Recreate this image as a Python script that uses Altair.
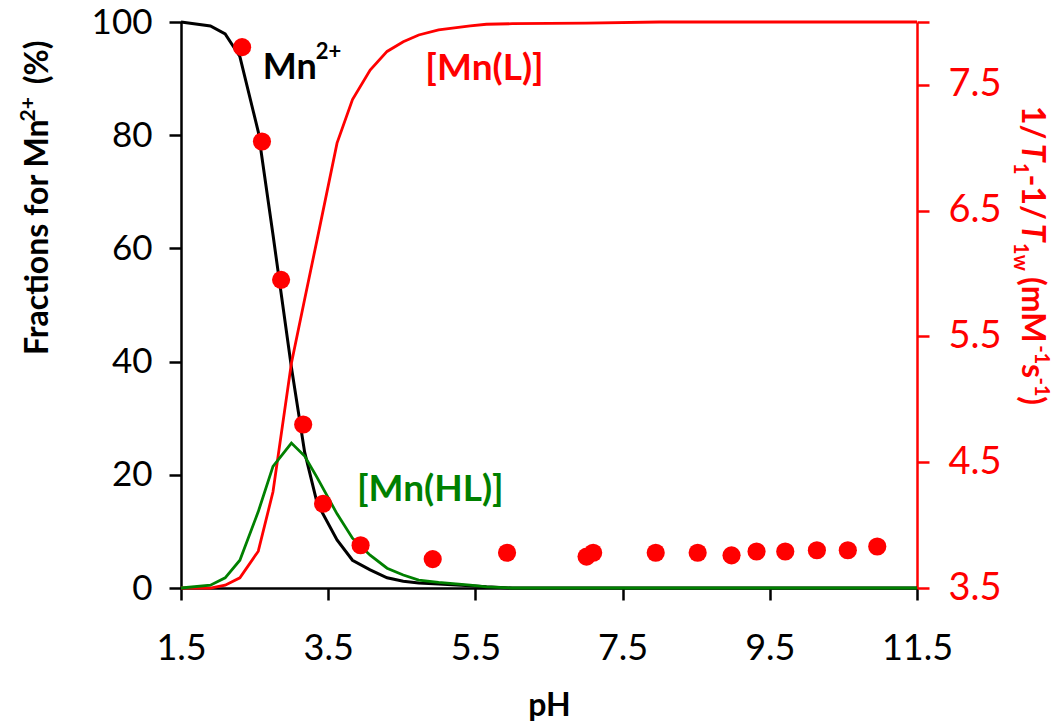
import altair as alt
import pandas as pd

# ---------------- data ----------------
ph_curve = [1.5, 1.9, 2.1, 2.3, 2.55, 2.75, 3.0, 3.18, 3.35, 3.62, 3.83, 4.07,
            4.3, 4.52, 4.73, 5.0, 5.43, 5.65, 6.0, 7.0, 8.0, 9.0, 10.0, 11.5]
mn_free = [100, 99.3, 97.9, 93.9, 80.6, 62.4, 39.0, 24.0, 15.0, 8.5, 4.9, 3.2,
           1.8, 1.2, 0.9, 0.7, 0.4, 0.2, 0, 0, 0, 0, 0, 0]
mn_l = [0, 0, 0.5, 1.8, 6.5, 17.0, 39.7, 51.0, 61.6, 78.6, 86.3, 91.5,
        94.8, 96.5, 97.7, 98.6, 99.3, 99.6, 99.7, 99.8, 100, 100, 100, 100]
mn_hl = [0, 0.5, 1.8, 4.9, 13.5, 21.5, 25.6, 23.3, 19.5, 13.1, 8.8, 5.8,
         3.5, 2.3, 1.4, 1.0, 0.5, 0.2, 0, 0, 0, 0, 0, 0]

ph_points = [2.33, 2.60, 2.86, 3.16, 3.43, 3.94, 4.92, 5.93, 7.01, 7.10,
             7.95, 8.52, 8.98, 9.32, 9.71, 10.14, 10.56, 10.96]
relaxivity = [7.80, 7.05, 5.95, 4.80, 4.17, 3.84, 3.73, 3.78, 3.75, 3.78,
              3.78, 3.78, 3.76, 3.79, 3.79, 3.80, 3.80, 3.83]

x_ticks = [1.5, 3.5, 5.5, 7.5, 9.5, 11.5]
left_ticks = [0, 20, 40, 60, 80, 100]
right_ticks = [3.5, 4.5, 5.5, 6.5, 7.5, 8.0]

# ---------------- tables ----------------
long_rows = []
for name, vals in [("Mn", mn_free), ("MnL", mn_l), ("MnHL", mn_hl)]:
    for p, v in zip(ph_curve, vals):
        long_rows.append({"pH": p, "pct": v, "series": name})
curves = pd.DataFrame(long_rows)
pts = pd.DataFrame({"pH": ph_points, "r": relaxivity})

FONT = "Lato"
RED = "#FF0000"
GREEN = "#008000"
W, H = 736, 566

x_scale = alt.Scale(domain=[1.5, 11.5], nice=False, zero=False)
x_axis = alt.Axis(values=x_ticks, format=".1f", title="pH", grid=False,
                  domainColor="black", domainWidth=2.5, tickColor="black",
                  tickWidth=2.5, tickSize=12, labelFont=FONT, labelFontSize=36,
                  labelColor="black", labelPadding=31, labelFlush=False,
                  titleFont=FONT, titleFontSize=32, titleFontWeight="bold",
                  titleColor="black", titleBaseline="alphabetic", titleY=127)
xenc = alt.X("pH:Q", scale=x_scale, axis=x_axis)

yl_scale = alt.Scale(domain=[0, 100], nice=False, zero=False)
yl_axis = alt.Axis(values=left_ticks, format="d", title="", grid=False, orient="left",
                   domainColor="black", domainWidth=2.5, tickColor="black",
                   tickWidth=2.5, tickSize=12, labelFont=FONT, labelFontSize=35,
                   labelColor="black", labelPadding=17)
ylenc = alt.Y("pct:Q", scale=yl_scale, axis=yl_axis)


def curve(name, color, width):
    return alt.Chart(curves).transform_filter(
        alt.datum.series == name
    ).mark_line(color=color, strokeWidth=width).encode(x=xenc, y=ylenc)


def label(text, ph, pct, color, size, align="left"):
    df = pd.DataFrame({"pH": [ph], "pct": [pct], "t": [text]})
    return alt.Chart(df).mark_text(
        font=FONT, fontSize=size, fontWeight="bold", color=color,
        align=align, baseline="alphabetic"
    ).encode(x=xenc, y=ylenc, text="t:N")


# approximate advance widths (em) for Lato Bold, used to chain title pieces
CW = {"1": .58, "2": .58, "/": .40, " ": .20, "T": .60, "-": .36, "(": .33,
      ")": .33, "m": .87, "M": .93, "s": .42, "w": .80, "F": .56, "r": .38,
      "a": .52, "c": .45, "t": .36, "i": .26, "o": .57, "n": .58, "f": .34,
      "%": .84, "+": .58}


def text_w(s, size):
    return sum(CW.get(c, .55) for c in s) * size


def title_pieces(pieces, x0, y0, angle, sign, color):
    """pieces: (text, size, italic, shift) ; shift>0 raises (superscript)."""
    layers = []
    pos = 0.0
    for text, size, italic, shift in pieces:
        lead = len(text) - len(text.lstrip(" "))
        pos += text_w(" " * lead, size)
        core = text.strip(" ")
        px = x0 + shift if angle == 90 else x0 - shift
        py = y0 + sign * pos
        df = pd.DataFrame({"t": [core]})
        layers.append(
            alt.Chart(df).mark_text(
                font=FONT, fontSize=size, fontWeight="bold",
                fontStyle="italic" if italic else "normal",
                color=color, angle=angle, align="left", baseline="alphabetic"
            ).encode(x=alt.value(px), y=alt.value(py), text="t:N")
        )
        pos += text_w(core, size)
        trail = len(text) - len(text.rstrip(" "))
        pos += text_w(" " * trail, size)
    return layers


BIG, SMALL = 32, 20
right_title = title_pieces([
    ("1/ ", BIG, False, 0), ("T", BIG, True, 0), ("1", SMALL, False, -8),
    ("-1/ ", BIG, False, 0), ("T", BIG, True, 0), ("1w", SMALL, False, -8),
    (" (mM", BIG, False, 0), ("-1", SMALL, False, 13), ("s", BIG, False, 0),
    ("-1", SMALL, False, 13), (")", BIG, False, 0)],
    x0=841, y0=84, angle=90, sign=1, color=RED)

left_title = title_pieces([
    ("Fractions for Mn", 32, False, 0), ("2+", 21, False, 13), ("  (%)", 32, False, 0)],
    x0=-133, y0=333, angle=270, sign=-1, color="black")

left_group = alt.layer(
    curve("Mn", "black", 3),
    curve("MnL", RED, 2.8),
    curve("MnHL", GREEN, 2.8),
    label("Mn", 2.61, 89.9, "black", 36),
    label("2+", 3.33, 93.4, "black", 22),
    label("[Mn(L)]", 4.82, 89.7, RED, 37),
    label("[Mn(HL)]", 3.89, 15.3, GREEN, 37),
    *left_title,
    *right_title,
)

yr_axis = alt.Axis(values=right_ticks, orient="right", title="", grid=False,
                   labelExpr="datum.value >= 8 ? '' : format(datum.value, '.1f')",
                   domainColor=RED, domainWidth=2.5, tickColor=RED, tickWidth=2.5,
                   tickSize=12, labelFont=FONT, labelFontSize=38, labelColor=RED,
                   labelPadding=19)
scatter = alt.Chart(pts).mark_circle(size=330, color=RED, opacity=1).encode(
    x=xenc,
    y=alt.Y("r:Q", scale=alt.Scale(domain=[3.5, 8.0], nice=False, zero=False),
            axis=yr_axis),
)

chart = alt.layer(left_group, scatter).resolve_scale(y="independent").properties(
    width=W, height=H,
    autosize=alt.AutoSizeParams(type="none"),
    padding={"left": 181, "top": 22, "right": 143, "bottom": 137},
    background="white",
).configure_view(strokeWidth=0)

chart.save("out.html", embed_options={"renderer": "svg", "actions": False})
